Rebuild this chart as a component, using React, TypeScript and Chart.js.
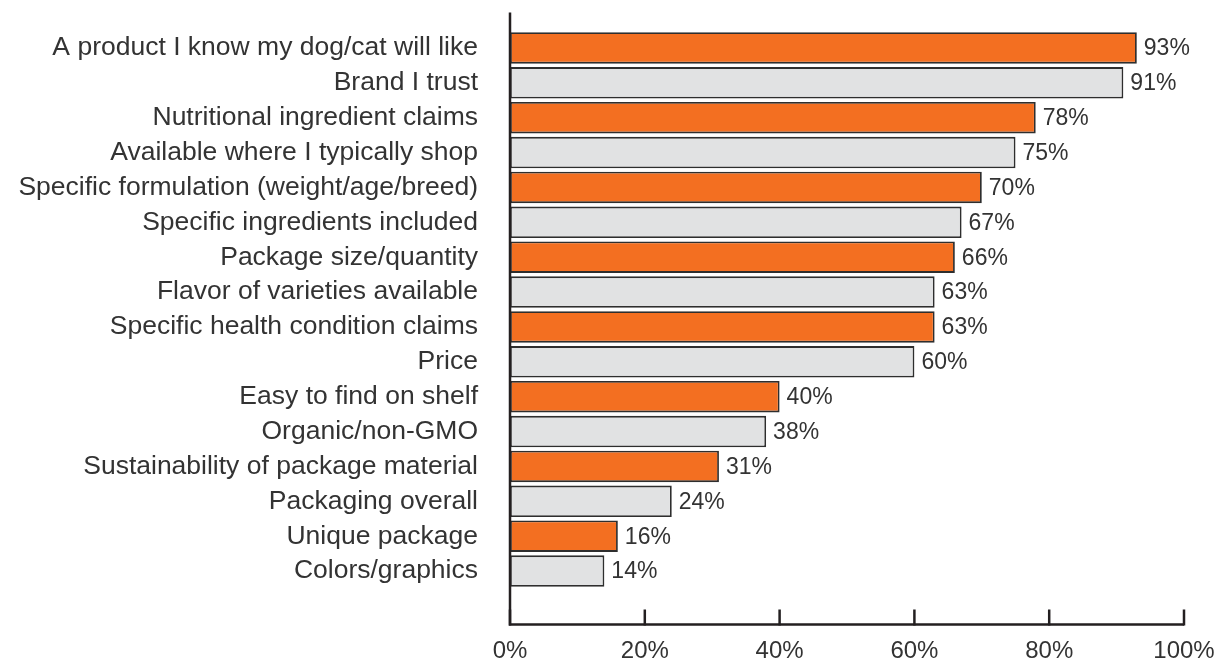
import React, { useEffect, useRef } from "react";
import { Chart, registerables } from "chart.js";

Chart.register(...registerables);

const categories = [
  "A product I know my dog/cat will like",
  "Brand I trust",
  "Nutritional ingredient claims",
  "Available where I typically shop",
  "Specific formulation (weight/age/breed)",
  "Specific ingredients included",
  "Package size/quantity",
  "Flavor of varieties available",
  "Specific health condition claims",
  "Price",
  "Easy to find on shelf",
  "Organic/non-GMO",
  "Sustainability of package material",
  "Packaging overall",
  "Unique package",
  "Colors/graphics",
];

const values = [93, 91, 78, 75, 70, 67, 66, 63, 63, 60, 40, 38, 31, 24, 16, 14];

const xTicks = [0, 20, 40, 60, 80, 100];

const ORANGE = "#F36F21";
const GRAY = "#E1E2E3";
const TEXT = "#333333";
const AXIS = "#231F20";
const FONT = "'Liberation Sans', Arial, sans-serif";

const zeroPad = (scale: any) => {
  scale.paddingLeft = 0;
  scale.paddingRight = 0;
  scale.paddingTop = 0;
  scale.paddingBottom = 0;
};

const axisPlugin = {
  id: "customAxes",
  afterDraw(chart: any) {
    const { ctx, chartArea, scales } = chart;
    const x = scales.x;
    const left = x.getPixelForValue(0);
    const right = x.getPixelForValue(100);
    const axisY = chartArea.bottom + 36;
    const topY = chartArea.top - 18;
    ctx.save();
    ctx.strokeStyle = AXIS;
    ctx.lineWidth = 2.5;
    ctx.beginPath();
    ctx.moveTo(left, topY);
    ctx.lineTo(left, axisY);
    ctx.lineTo(right, axisY);
    ctx.stroke();
    xTicks.forEach((t) => {
      const px = x.getPixelForValue(t);
      ctx.beginPath();
      ctx.moveTo(px, axisY - 15);
      ctx.lineTo(px, axisY + 1);
      ctx.stroke();
    });
    ctx.restore();
  },
};

const valueLabelPlugin = {
  id: "valueLabels",
  afterDatasetsDraw(chart: any) {
    const { ctx } = chart;
    const meta = chart.getDatasetMeta(0);
    ctx.save();
    ctx.fillStyle = TEXT;
    ctx.font = `23px ${FONT}`;
    ctx.textAlign = "left";
    ctx.textBaseline = "middle";
    meta.data.forEach((bar: any, i: number) => {
      ctx.fillText(`${values[i]}%`, bar.x + 7, bar.y + 1);
    });
    ctx.restore();
  },
};

export default function App() {
  const ref = useRef<HTMLCanvasElement | null>(null);

  useEffect(() => {
    document.body.style.margin = "0";
    if (!ref.current) return;
    const chart = new Chart(ref.current, {
      type: "bar",
      data: {
        labels: categories,
        datasets: [
          {
            data: values,
            backgroundColor: values.map((_, i) => (i % 2 === 0 ? ORANGE : GRAY)),
            borderColor: "#2e2e2e",
            borderWidth: 1.8,
            borderSkipped: false,
            barPercentage: 0.9,
            categoryPercentage: 1,
          },
        ],
      },
      options: {
        indexAxis: "y",
        animation: false,
        responsive: false,
        maintainAspectRatio: false,
        layout: { padding: { top: 30.5, right: 42, left: 0, bottom: 0 } },
        plugins: {
          legend: { display: false },
          tooltip: { enabled: false },
        },
        scales: {
          x: {
            min: 0,
            max: 100,
            afterFit: (scale: any) => {
              scale.height = 72.5;
              zeroPad(scale);
            },
            afterBuildTicks: (scale: any) => {
              scale.ticks = xTicks.map((v) => ({ value: v }));
            },
            grid: { display: false },
            border: { display: false },
            ticks: {
              padding: 40,
              color: TEXT,
              font: { family: FONT, size: 24 },
              maxRotation: 0,
              callback: (v: any) => `${v}%`,
            },
          },
          y: {
            afterFit: (scale: any) => {
              scale.width = 510;
              zeroPad(scale);
            },
            grid: { display: false },
            border: { display: false },
            ticks: {
              padding: 24,
              color: TEXT,
              font: { family: FONT, size: 26.5 },
              autoSkip: false,
            },
          },
        },
      },
      plugins: [axisPlugin, valueLabelPlugin],
    });
    return () => chart.destroy();
  }, []);

  return (
    <div style={{ position: "fixed", left: 0, top: 0, width: 1226, height: 661 }}>
      <canvas ref={ref} width={1226} height={661} style={{ width: 1226, height: 661 }} />
    </div>
  );
}
